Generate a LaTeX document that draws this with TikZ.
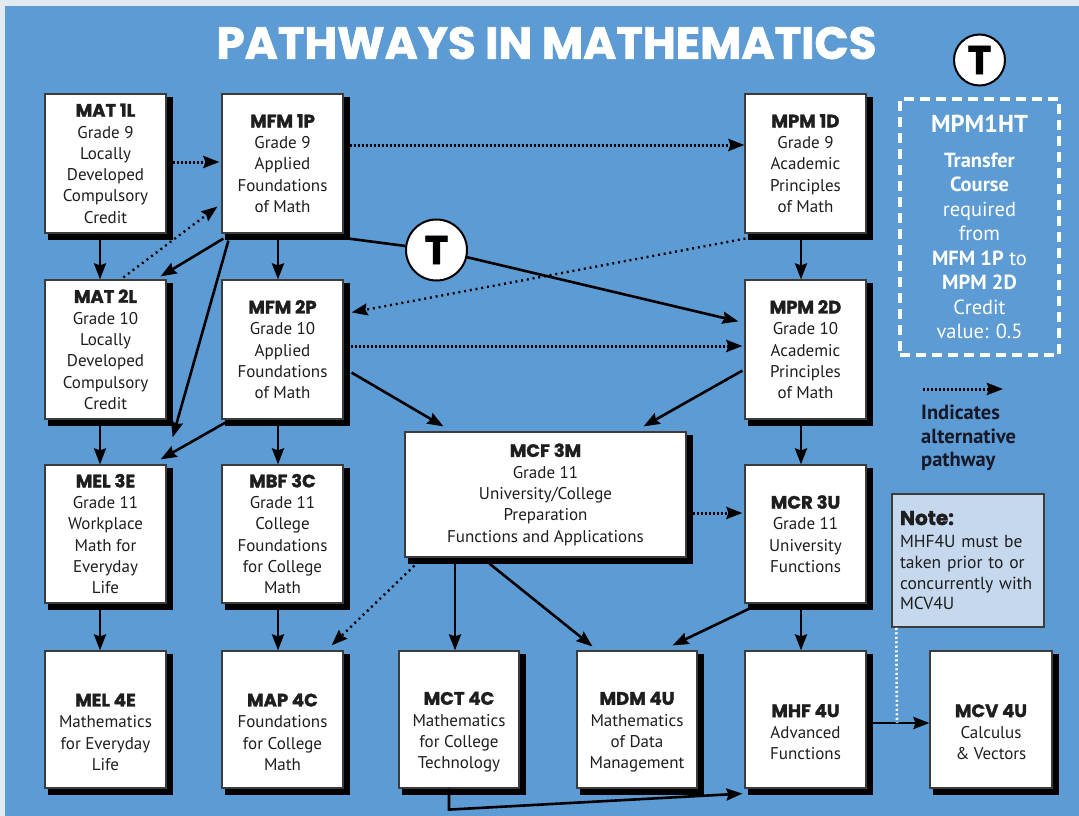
\documentclass[tikz,border=0pt]{standalone}
\usepackage{fontspec}
\setmainfont{PT Sans}
\newfontfamily\hfont{Poppins}[BoldFeatures={FakeBold=1.6}]
\usetikzlibrary{arrows.meta}
\definecolor{bgblue}{RGB}{92,155,211}
\definecolor{outerc}{RGB}{226,233,240}
\definecolor{notefill}{RGB}{197,216,237}
\definecolor{txtc}{RGB}{30,30,30}
\definecolor{brd}{RGB}{60,60,60}
\definecolor{legc}{RGB}{22,24,40}
\newcommand\bodyfs{\fontsize{17}{21.3}\selectfont}
\newcommand\crs[1]{{\hfont\bfseries\fontsize{18}{21.3}\selectfont #1}}
\tikzset{
  box/.style={draw=brd, line width=1.2pt, fill=white,
    minimum width=121pt, minimum height=139pt, inner sep=0pt, align=center,
    font=\bodyfs, text=txtc},
  shadowline/.style={draw=black, line width=6pt, line cap=butt, line join=miter},
  tcircle/.style={circle, draw=black, line width=2pt, fill=white, inner sep=0pt,
    font=\hfont\bfseries\fontsize{40}{40}\selectfont},
  arr/.style={line width=2.6pt, draw=black, -{Stealth[length=16pt,width=12pt,inset=2pt]}},
  plain/.style={line width=2.6pt, draw=black},
  dotarr/.style={line width=3pt, draw=black, dash pattern=on 2.2pt off 1.8pt,
    -{Stealth[length=16pt,width=12pt,inset=2pt]}},
  thindot/.style={line width=2.4pt, draw=black, dash pattern=on 2pt off 3.8pt,
    -{Stealth[length=16pt,width=12pt,inset=2pt]}},
  whitedot/.style={line width=2.6pt, draw=white, dash pattern=on 2pt off 2.5pt},
}
\begin{document}
\begin{tikzpicture}[x=1pt,y=-1pt]
\useasboundingbox (0,0) rectangle (1079,816);
\fill[outerc] (0,0) rectangle (1079,816);
\fill[bgblue] (5,6) rectangle (1079,816);

% title
\node[font=\hfont\bfseries\fontsize{45}{45}\selectfont, text=white] (title) at (546.5,43) {PATHWAYS IN MATHEMATICS};
\node[tcircle, minimum size=51pt] (thead) at (979.5,60) {T};

% row 1
\node[box] (mat1l) at (105.5,163.5) {\crs{MAT 1L}\\Grade 9\\Locally\\Developed\\Compulsory\\Credit};
\node[box] (mfm1p) at (282.5,163.5) {\crs{MFM 1P}\\Grade 9\\Applied\\Foundations\\of Math};
\node[box] (mpm1d) at (805.5,163.5) {\crs{MPM 1D}\\Grade 9\\Academic\\Principles\\of Math};

% dashed transfer box
\node[draw=white, line width=4pt, dash pattern=on 10pt off 6pt, minimum width=159pt, minimum height=256pt,
  inner sep=0pt, align=center, text=white, font=\fontsize{20.5}{24.5}\selectfont] (mpmht) at (979.5,227)
  {{\bfseries\fontsize{24.5}{24.5}\selectfont MPM1HT}\\[10pt]\textbf{Transfer}\\\textbf{Course}\\required\\from\\\textbf{MFM 1P} to\\\textbf{MPM 2D}\\Credit\\value: 0.5};

% row 2
\node[box] (mat2l) at (105.5,349.5) {\crs{MAT 2L}\\Grade 10\\Locally\\Developed\\Compulsory\\Credit};
\node[box] (mfm2p) at (282.5,349.5) {\crs{MFM 2P}\\Grade 10\\Applied\\Foundations\\of Math};
\node[box] (mpm2d) at (805.5,349.5) {\crs{MPM 2D}\\Grade 10\\Academic\\Principles\\of Math};

% T circle
\node[tcircle, minimum size=61pt] (tmid) at (436.5,250) {T};

% legend
\coordinate (lg1) at (923,389);
\coordinate (lg2) at (1003,389);
\node[anchor=west, align=left, font=\bfseries\fontsize{20.5}{23.5}\selectfont, text=legc, inner sep=0pt] (legend) at (921,438) {Indicates\\alternative\\pathway};

% row 3
\node[box, minimum height=138pt] (mel3e) at (105.5,534) {\crs{MEL 3E}\\Grade 11\\Workplace\\Math for\\Everyday\\Life};
\node[box, minimum height=138pt] (mbf3c) at (282.5,534) {\crs{MBF 3C}\\Grade 11\\College\\Foundations\\for College\\Math};
\node[box, minimum width=281pt, minimum height=125pt] (mcf3m) at (545.5,494.5) {\crs{MCF 3M}\\Grade 11\\University/College\\Preparation\\Functions and Applications};
\node[box, minimum height=138pt] (mcr3u) at (805.5,534) {\crs{MCR 3U}\\Grade 11\\University\\Functions};

% note
\node[draw=brd, line width=1.5pt, fill=notefill, minimum width=152pt, minimum height=133pt, inner xsep=8pt, inner ysep=0pt,
  text width=136pt, align=left, font=\fontsize{17.5}{20.7}\selectfont, text=txtc] (note) at (968,560.5)
  {{\hfont\bfseries\fontsize{20}{20.7}\selectfont Note:}\\[2pt]MHF4U must be\\taken prior to or\\concurrently with\\MCV4U};

% row 4
\node[box, minimum height=137pt] (mel4e) at (105.5,719.5) {\crs{\rule{0pt}{38pt}MEL 4E}\\Mathematics\\for Everyday\\Life};
\node[box, minimum height=137pt] (map4c) at (282.5,719.5) {\crs{\rule{0pt}{38pt}MAP 4C}\\Foundations\\for College\\Math};
\node[box, minimum width=120pt, minimum height=137pt] (mct4c) at (459,719.5) {\crs{\rule{0pt}{38pt}MCT 4C}\\Mathematics\\for College\\Technology};
\node[box, minimum width=120pt, minimum height=137pt] (mdm4u) at (637,719.5) {\crs{\rule{0pt}{38pt}MDM 4U}\\Mathematics\\of Data\\Management};
\node[box, minimum height=137pt] (mhf4u) at (805.5,719.5) {\crs{\rule{0pt}{38pt}MHF 4U}\\Advanced\\Functions};
\node[box, minimum width=122pt, minimum height=137pt] (mcv4u) at (991,719.5) {\crs{\rule{0pt}{38pt}MCV 4U}\\Calculus\\\& Vectors};

% drop shadows (right and bottom black bands)
\foreach \bx in {mat1l,mfm1p,mpm1d,mat2l,mfm2p,mpm2d,mel3e,mbf3c,mcf3m,mcr3u,mel4e,map4c,mct4c,mdm4u,mhf4u,mcv4u}{
  \draw[shadowline] ([shift={(3.6,4)}]\bx.north east) -- ([shift={(3.6,3.6)}]\bx.south east) -- ([shift={(4,3.6)}]\bx.south west);
}

% solid connectors
\draw[arr] ([shift={(-5.5,0)}]mat1l.south) -- ([shift={(-5.5,0)}]mat2l.north);
\draw[arr] ([shift={(2,5)}]mfm1p.south west) -- ([shift={(-6,-3)}]mat2l.north east);
\draw[arr] ([shift={(7,7)}]mfm1p.south west) -- ([shift={(6,-27)}]mel3e.north east);
\draw[arr] ([shift={(-4.5,0)}]mfm1p.south) -- ([shift={(-4.5,0)}]mfm2p.north);
\draw[plain] ([shift={(5,5)}]mfm1p.south east) -- (tmid);
\draw[arr] (tmid) -- ([shift={(-6,42)}]mpm2d.north west);
\draw[arr] ([shift={(-4.5,0)}]mpm1d.south) -- ([shift={(-4.5,0)}]mpm2d.north);
\draw[arr] ([shift={(-5.5,0)}]mat2l.south) -- ([shift={(-5.5,0)}]mel3e.north);
\draw[arr] ([shift={(4,3)}]mfm2p.south west) -- ([shift={(-6,-5)}]mel3e.north east);
\draw[arr] ([shift={(-4.5,0)}]mfm2p.south) -- ([shift={(-4.5,0)}]mbf3c.north);
\draw[arr] ([shift={(8,-47)}]mfm2p.south east) -- ([shift={(39,-5)}]mcf3m.north west);
\draw[arr] ([shift={(-2,-49)}]mpm2d.south west) -- ([shift={(-43,-5)}]mcf3m.north east);
\draw[arr] ([shift={(-4.5,0)}]mpm2d.south) -- ([shift={(-4.5,0)}]mcr3u.north);
\draw[arr] ([shift={(-5.5,0)}]mel3e.south) -- ([shift={(-5.5,0)}]mel4e.north);
\draw[arr] ([shift={(-4.5,0)}]mbf3c.south) -- ([shift={(-4.5,0)}]map4c.north);
\draw[arr] ([shift={(-90.5,0)}]mcf3m.south) -- ([shift={(-4,0)}]mct4c.north);
\draw[arr] ([shift={(85,6)}]mcf3m.south west) -- ([shift={(16,-4)}]mdm4u.north west);
\draw[arr] ([shift={(5,5)}]mcr3u.south west) -- ([shift={(-25,-5)}]mdm4u.north east);
\draw[arr] ([shift={(-4.5,0)}]mcr3u.south) -- ([shift={(-4.5,0)}]mhf4u.north);
\draw[arr] ([shift={(6,3.5)}]mhf4u.east) -- ([shift={(0,3.5)}]mcv4u.west);
\draw[arr] ([shift={(-10,0)}]mct4c.south) -- ([shift={(-10,21)}]mct4c.south) -- ([shift={(-2,5)}]mhf4u.south west);

% dotted (alternative) connectors
\draw[dotarr] ([shift={(6,-1.5)}]mat1l.east) -- ([shift={(-2,-1.5)}]mfm1p.west);
\draw[thindot] ([shift={(79,-2)}]mat2l.north west) -- ([shift={(-4,-27)}]mfm1p.south west);
\draw[dotarr] ([shift={(6,-18.5)}]mfm1p.east) -- ([shift={(0,-18.5)}]mpm1d.west);
\draw[thindot] ([shift={(1,5)}]mpm1d.south west) -- ([shift={(8,33)}]mfm2p.north east);
\draw[dotarr] ([shift={(7,-3.5)}]mfm2p.east) -- ([shift={(-2,-3.5)}]mpm2d.west);
\draw[dotarr] ([shift={(6,18.5)}]mcf3m.east) -- ([shift={(-2,-21)}]mcr3u.west);
\draw[thindot] ([shift={(10,8)}]mcf3m.south west) -- ([shift={(-12,-5)}]map4c.north east);
\draw[dotarr] (lg1) -- (lg2);
\coordinate (nd) at (897,723);
\draw[whitedot] ([shift={(5,0)}]note.south west) -- (nd);
\end{tikzpicture}
\end{document}
